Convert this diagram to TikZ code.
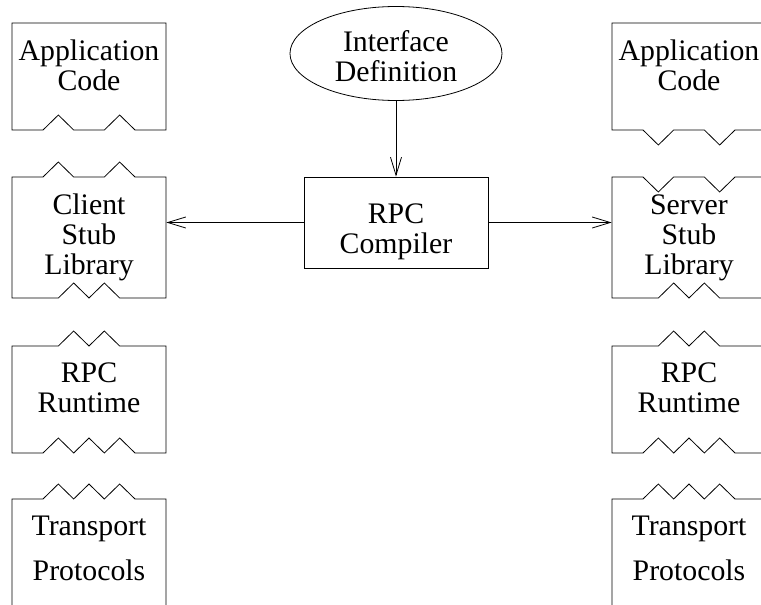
\documentclass[tikz,border=0pt]{standalone}
\usepackage{fontspec}
\setmainfont{Liberation Serif}
\usepackage{tikz}
\usetikzlibrary{arrows.meta}
\usetikzlibrary{shapes.geometric}

% outline of one layer box: x0, top, bottom, top edge, bottom edge
\newcommand{\zigbox}[5]{%
  \draw (#1,#3) -- (#1,#2)
    foreach \kk/\dy in #4 { -- ({#1+31+\kk*15.33},{#2+(\dy)}) }
    -- ({#1+154},#2) -- ({#1+154},#3)
    foreach \kk/\dy in #5 { -- ({#1+123-\kk*15.33},{#3+(\dy)}) }
    -- cycle;
}
\def\zigN{0/0}
\def\zigA{0/0,1/-15,2/0,4/0,5/-15,6/0}
\def\zigAd{0/0,1/15,2/0,4/0,5/15,6/0}
\def\zigB{1/0,2/-15,3/0,4/-15,5/0}
\def\zigC{0/0,1/-15,2/0,3/-15,4/0,5/-15,6/0}

\begin{document}
\begin{tikzpicture}[x=1pt,y=-1pt,line width=0.8pt,
    every node/.style={font=\fontsize{29.8}{30}\selectfont, inner sep=0pt, align=center},
    stub/.style={minimum width=154pt, minimum height=121pt},
    >={Straight Barb[length=18pt,width=11pt]}]
    \useasboundingbox (0,0) rectangle (761,605);
    \clip (0,0) rectangle (761,605);

    % client side
    \zigbox{12}{23}{130}{\zigN}{\zigA}
    \zigbox{12}{177}{298}{\zigA}{\zigB}
    \zigbox{12}{346}{453}{\zigB}{\zigC}
    \zigbox{12}{499}{640}{\zigC}{\zigN}
    \node (lapp) at (89,65) {Application\\Code};
    \node[stub] (lstub) at (89,237.5) {Client\\Stub\\Library};
    \node (lrt) at (89,387.5) {RPC\\Runtime};
    \node (ltp) at (89,548) {Transport\\[15pt]Protocols};

    % server side
    \zigbox{612}{23}{130}{\zigN}{\zigAd}
    \zigbox{612}{177}{298}{\zigAd}{\zigB}
    \zigbox{612}{346}{453}{\zigB}{\zigC}
    \zigbox{612}{499}{640}{\zigC}{\zigN}
    \node (rapp) at (689,65) {Application\\Code};
    \node[stub] (rstub) at (689,237.5) {Server\\Stub\\Library};
    \node (rrt) at (689,387.5) {RPC\\Runtime};
    \node (rtp) at (689,548) {Transport\\[15pt]Protocols};

    % compiler
    \node[ellipse, draw, minimum width=212pt, minimum height=94pt] (iface) at (396,53.5) {\rule{0pt}{26pt}Interface\\Definition};
    \node[draw, minimum width=184pt, minimum height=91pt] (comp) at (396,222.5) {\rule{0pt}{38pt}RPC\\Compiler};
    \draw[->] (iface) -- (comp);
    \draw[->] (comp.west) -- (comp.west -| lstub.east);
    \draw[->] (comp.east) -- (comp.east -| rstub.west);
\end{tikzpicture}
\end{document}
